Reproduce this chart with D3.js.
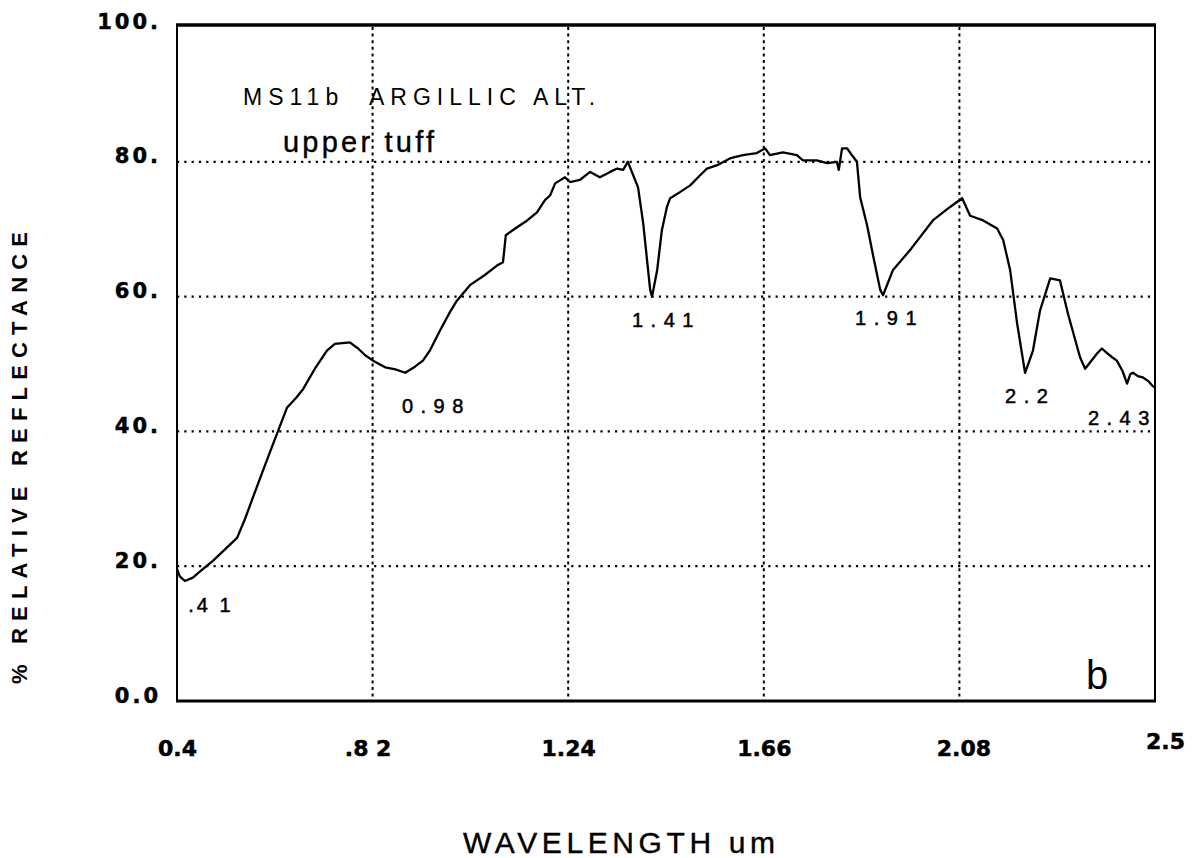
<!DOCTYPE html>
<html>
<head>
<meta charset="utf-8">
<script src="https://cdn.jsdelivr.net/npm/d3@7"></script>
<style>
  body { margin: 0; background: #fff; }
  svg { display: block; }
</style>
</head>
<body>
<div id="content"></div>
<script>
// spectrum (wavelength in um, % reflectance)
const wavelength = [0.400, 0.406, 0.417, 0.434, 0.449, 0.477, 0.503, 0.529, 0.546, 0.563,
  0.589, 0.615, 0.636, 0.656, 0.671, 0.696, 0.722, 0.739, 0.771, 0.789,
  0.804, 0.821, 0.847, 0.869, 0.890, 0.911, 0.928, 0.943, 0.965, 0.986,
  1.001, 1.029, 1.061, 1.087, 1.100, 1.106, 1.126, 1.152, 1.173, 1.190,
  1.201, 1.212, 1.233, 1.244, 1.265, 1.287, 1.308, 1.330, 1.345, 1.358,
  1.368, 1.390, 1.401, 1.416, 1.420, 1.431, 1.441, 1.452, 1.459, 1.480,
  1.502, 1.519, 1.538, 1.560, 1.587, 1.615, 1.645, 1.663, 1.673, 1.701,
  1.731, 1.744, 1.774, 1.796, 1.817, 1.821, 1.828, 1.839, 1.849, 1.860,
  1.867, 1.882, 1.895, 1.910, 1.916, 1.937, 1.974, 2.023, 2.060, 2.086,
  2.103, 2.131, 2.161, 2.174, 2.189, 2.204, 2.221, 2.238, 2.253, 2.275,
  2.296, 2.313, 2.339, 2.350, 2.376, 2.386, 2.397, 2.408, 2.418, 2.430,
  2.440, 2.447, 2.453, 2.463, 2.474, 2.485, 2.494, 2.500];
const reflectance = [19.6, 18.5, 17.8, 18.3, 19.2, 20.8, 22.5, 24.2, 27.0, 30.2,
  35.0, 39.7, 43.5, 45.0, 46.3, 49.3, 52.0, 53.0, 53.2, 52.3,
  51.3, 50.5, 49.5, 49.2, 48.7, 49.6, 50.5, 52.0, 55.0, 57.7,
  59.4, 61.7, 63.2, 64.6, 65.1, 69.1, 70.1, 71.3, 72.5, 74.3,
  75.0, 76.8, 77.7, 77.0, 77.3, 78.5, 77.7, 78.5, 79.0, 78.8,
  80.0, 76.2, 70.9, 61.0, 60.0, 63.9, 69.8, 73.3, 74.6, 75.5,
  76.5, 77.7, 79.0, 79.5, 80.5, 81.0, 81.3, 82.0, 81.0, 81.4,
  81.0, 80.2, 80.2, 79.8, 80.0, 78.8, 82.0, 82.0, 81.0, 80.0,
  74.7, 70.5, 66.0, 61.0, 60.2, 63.9, 66.9, 71.3, 73.3, 74.6,
  72.0, 71.3, 70.1, 68.4, 63.9, 56.0, 48.7, 52.0, 57.9, 62.7,
  62.4, 57.5, 51.0, 49.3, 51.6, 52.3, 51.6, 51.0, 50.5, 49.0,
  47.1, 48.5, 48.7, 48.2, 48.0, 47.5, 46.8, 46.5];

const xTicks = [0.4, 0.82, 1.24, 1.66, 2.08, 2.5];
const xTickLabels = ["0.4", ".8 2", "1.24", "1.66", "2.08", "2.5"];
const yTicks = [0, 20, 40, 60, 80, 100];
const yTickLabels = ["0.0", "20.", "40.", "60.", "80.", "100."];
const xGrid = [0.82, 1.24, 1.66, 2.08];
const yGrid = [20, 40, 60, 80];

// band labels placed at (wavelength, %) under each feature
const bandLabels = ["0.98", "1.41", "1.91", "2.2", "2.43", ".4 1"];
const bandX = [0.883, 1.377, 1.856, 2.178, 2.356, 0.424];
const bandY = [42.7, 55.5, 55.8, 44.2, 40.9, 13.2];

const W = 1201, H = 858;
const mLeft = 177, mRight = 1155, mTop = 27, mBottom = 701;

const svg = d3.select("#content").append("svg")
  .attr("width", W).attr("height", H);

const x = d3.scaleLinear().domain([0.4, 2.5]).range([mLeft, mRight]);
const y = d3.scaleLinear().domain([0, 100]).range([mBottom, mTop]);

// dotted grid
svg.append("g")
  .selectAll("line")
  .data(yGrid)
  .join("line")
  .attr("x1", mLeft).attr("x2", mRight)
  .attr("y1", d => y(d)).attr("y2", d => y(d))
  .attr("stroke", "#000")
  .attr("stroke-width", 2.2)
  .attr("stroke-dasharray", "2.2,5.1");

svg.append("g")
  .selectAll("line")
  .data(xGrid)
  .join("line")
  .attr("x1", d => x(d)).attr("x2", d => x(d))
  .attr("y1", mTop).attr("y2", mBottom)
  .attr("stroke", "#000")
  .attr("stroke-width", 2)
  .attr("stroke-dasharray", "3,3.6");

// frame
svg.append("line").attr("x1", mLeft - 1).attr("x2", mRight + 1).attr("y1", mTop - 2).attr("y2", mTop - 2)
  .attr("stroke", "#000").attr("stroke-width", 3.5);
svg.append("line").attr("x1", mLeft - 1).attr("x2", mRight + 1).attr("y1", mBottom).attr("y2", mBottom)
  .attr("stroke", "#000").attr("stroke-width", 3.2);
svg.append("line").attr("x1", mLeft).attr("x2", mLeft).attr("y1", mTop - 2).attr("y2", mBottom)
  .attr("stroke", "#000").attr("stroke-width", 2);
svg.append("line").attr("x1", mRight).attr("x2", mRight).attr("y1", mTop - 2).attr("y2", mBottom)
  .attr("stroke", "#000").attr("stroke-width", 2);

// axes (labels only)
const xAxis = svg.append("g")
  .attr("transform", `translate(0,${mBottom})`)
  .call(d3.axisBottom(x).tickValues(xTicks)
    .tickFormat((d, i) => xTickLabels[i]).tickSize(0).tickPadding(39));
xAxis.select(".domain").remove();
xAxis.selectAll("text")
  .attr("font-family", "'DejaVu Sans', sans-serif")
  .attr("font-weight", "bold")
  .attr("font-size", 22)
  .attr("stroke", "#000").attr("stroke-width", 0.5)
  .attr("fill", "#000")
  .attr("dx", (d, i) => i === 1 ? -5 : (i === 4 ? 4 : (i === 5 ? 10 : 0)))
  .attr("dy", (d, i) => i === 5 ? "0.4em" : "0.71em");

const yAxis = svg.append("g")
  .attr("transform", `translate(${mLeft},0)`)
  .call(d3.axisLeft(y).tickValues(yTicks)
    .tickFormat((d, i) => yTickLabels[i]).tickSize(0).tickPadding(16));
yAxis.select(".domain").remove();
yAxis.selectAll("text")
  .attr("font-family", "'DejaVu Sans', sans-serif")
  .attr("font-weight", "bold")
  .attr("font-size", 21)
  .attr("stroke", "#000").attr("stroke-width", 0.5)
  .attr("letter-spacing", 3)
  .attr("fill", "#000")
  .attr("dy", "0.05em");

// spectrum
const pts = wavelength.map((w, i) => [w, reflectance[i]]);
svg.append("path")
  .datum(pts)
  .attr("fill", "none")
  .attr("stroke", "#000")
  .attr("stroke-width", 2.3)
  .attr("stroke-linejoin", "round")
  .attr("d", d3.line().x(d => x(d[0])).y(d => y(d[1])));

// band labels
svg.append("g")
  .selectAll("text")
  .data(bandLabels)
  .join("text")
  .attr("x", (d, i) => x(bandX[i]))
  .attr("y", (d, i) => y(bandY[i]))
  .attr("font-family", "'Liberation Sans', Arial, sans-serif")
  .attr("font-size", 20)
  .attr("stroke", "#000")
  .attr("stroke-width", 0.5)
  .attr("letter-spacing", d => d.includes(" ") ? 3 : 7.5)
  .attr("fill", "#000")
  .text(d => d);

// sample title
svg.append("text")
  .attr("x", 243).attr("y", 105)
  .attr("font-family", "'Liberation Sans', Arial, sans-serif")
  .attr("font-size", 23)
  .attr("letter-spacing", 6)
  .text("MS11b\u00a0\u00a0ARGILLIC ALT.");
svg.append("text")
  .attr("x", 283).attr("y", 152)
  .attr("font-family", "'Liberation Sans', Arial, sans-serif")
  .attr("font-size", 29)
  .attr("stroke", "#000").attr("stroke-width", 0.4)
  .attr("textLength", 151).attr("lengthAdjust", "spacing")
  .text("upper tuff");

svg.append("text")
  .attr("x", 1086).attr("y", 689)
  .attr("font-family", "'Liberation Sans', Arial, sans-serif")
  .attr("font-size", 40)
  .text("b");

// axis titles
svg.append("text")
  .attr("x", 463).attr("y", 853)
  .attr("font-family", "'Liberation Sans', Arial, sans-serif")
  .attr("font-size", 30)
  .attr("stroke", "#000").attr("stroke-width", 0.4)
  .attr("textLength", 312).attr("lengthAdjust", "spacing")
  .text("WAVELENGTH  um");

svg.append("text")
  .attr("transform", "translate(27,684) rotate(-90)")
  .attr("font-family", "'Liberation Sans', Arial, sans-serif")
  .attr("font-weight", "bold")
  .attr("font-size", 22)
  .attr("textLength", 452).attr("lengthAdjust", "spacing")
  .text("% RELATIVE REFLECTANCE");
</script>
</body>
</html>
